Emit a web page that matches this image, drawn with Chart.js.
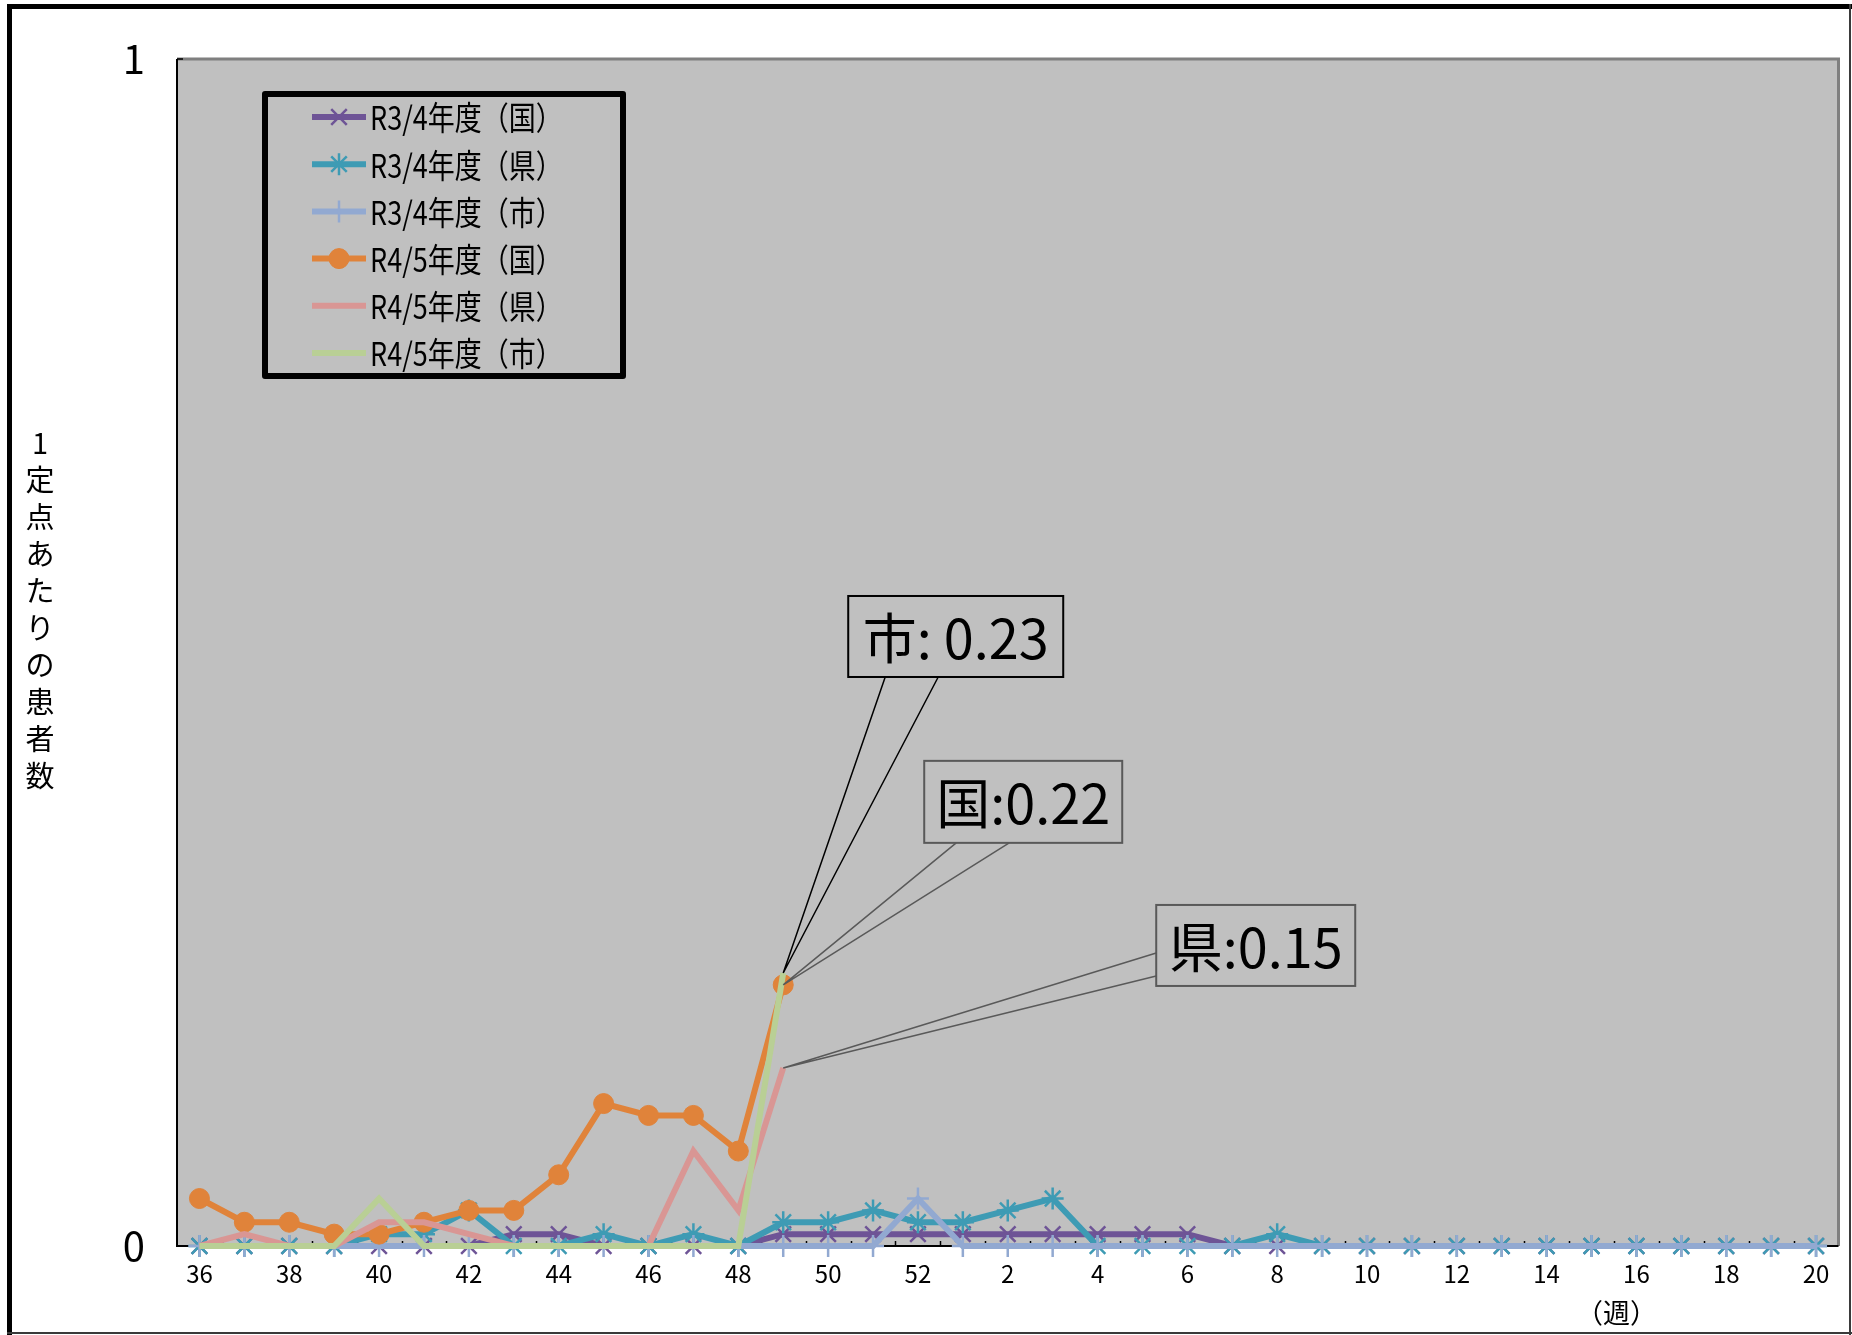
<!DOCTYPE html>
<html lang="ja">
<head>
<meta charset="utf-8">
<title>定点あたりの患者数</title>
<script src="https://cdn.jsdelivr.net/npm/chart.js@4.4.1/dist/chart.umd.min.js"></script>
<style>
  html, body { margin: 0; padding: 0; background: #fff; }
  canvas { display: block; }
</style>
</head>
<body>
<canvas id="chart" width="1852" height="1335"></canvas>
<script>
// 週（36週〜翌年20週）
const weeks = ["36", "37", "38", "39", "40", "41", "42", "43", "44", "45", "46", "47", "48", "49", "50", "51", "52",
    "1", "2", "3", "4", "5", "6", "7", "8", "9", "10", "11", "12", "13", "14", "15", "16", "17", "18", "19", "20"];

const seriesNames = ["R3/4年度（国）", "R3/4年度（県）", "R3/4年度（市）", "R4/5年度（国）", "R4/5年度（県）", "R4/5年度（市）"];

// R3/4年度 (全37週)
const r3National = [0, 0, 0, 0, 0, 0, 0, 0.01, 0.01, 0, 0, 0, 0, 0.01, 0.01, 0.01, 0.01,
    0.01, 0.01, 0.01, 0.01, 0.01, 0.01, 0, 0, 0, 0, 0, 0, 0, 0, 0, 0, 0, 0, 0, 0];
const r3Pref = [0, 0, 0, 0, 0.01, 0.01, 0.03, 0, 0, 0.01, 0, 0.01, 0, 0.02, 0.02, 0.03, 0.02,
    0.02, 0.03, 0.04, 0, 0, 0, 0, 0.01, 0, 0, 0, 0, 0, 0, 0, 0, 0, 0, 0, 0];
const r3City = [0, 0, 0, 0, 0, 0, 0, 0, 0, 0, 0, 0, 0, 0, 0, 0, 0.04,
    0, 0, 0, 0, 0, 0, 0, 0, 0, 0, 0, 0, 0, 0, 0, 0, 0, 0, 0, 0];

// R4/5年度 (36〜49週)
const r4National = [0.04, 0.02, 0.02, 0.01, 0.01, 0.02, 0.03, 0.03, 0.06, 0.12, 0.11, 0.11, 0.08, 0.22];
const r4Pref = [0, 0.01, 0, 0, 0.02, 0.02, 0.01, 0, 0, 0, 0, 0.08, 0.03, 0.15];
const r4City = [0, 0, 0, 0, 0.04, 0, 0, 0, 0, 0, 0, 0, 0, 0.23];

const yTicks = [0, 1];
const yTitle = "1定点あたりの患者数";
const xTitle = "（週）";

const FONT = "'Noto Sans CJK JP', 'Noto Sans', sans-serif";
const colors = ["#6E5496", "#3E9BB4", "#92A9D1", "#E0833A", "#D99694", "#B9CF95"];
const markers = ["crossRot", "star", "cross", "circle", null, null];
const values = [r3National, r3Pref, r3City, r4National, r4Pref, r4City];

// 吹き出し (series index, prefix, box offset from tip, leader bases)
const callouts = [
    { series: 5, prefix: "市: ", dx: 65, dy: -377, w: 215, h: 81, color: "#000", side: "bottom", b1: 37, b2: 90 },
    { series: 3, prefix: "国:", dx: 141, dy: -224, w: 198, h: 82, color: "#595959", side: "bottom", b1: 32, b2: 85 },
    { series: 4, prefix: "県:", dx: 373, dy: -163, w: 199, h: 81, color: "#595959", side: "left", b1: 48, b2: 71 },
];

function drawMarker(ctx, style, x, y, r, color) {
    ctx.save();
    ctx.strokeStyle = color;
    ctx.fillStyle = color;
    ctx.lineWidth = style === "circle" ? 1 : 2.5;
    if (window.Chart && Chart.helpers && Chart.helpers.drawPoint) {
        Chart.helpers.drawPoint(ctx, { pointStyle: style, radius: r, borderWidth: ctx.lineWidth, rotation: 0 }, x, y);
    }
    ctx.restore();
}

// 背景・枠・目盛り
const plotFrame = {
    id: "plotFrame",
    beforeDraw(chart) {
        const { ctx, chartArea: a, width, height } = chart;
        ctx.save();
        ctx.fillStyle = "#fff";
        ctx.fillRect(0, 0, width, height);
        ctx.fillStyle = "#c0c0c0";
        ctx.fillRect(a.left, a.top, a.right - a.left, a.bottom - a.top);
        ctx.fillStyle = "#000";
        ctx.fillRect(7, 4, 5, height - 4);
        ctx.fillRect(7, 4, width - 7, 5);
        ctx.fillStyle = "#3a3a3a";
        ctx.fillRect(width - 3, 4, 2, height - 4);
        ctx.fillRect(7, height - 3, width - 7, 2);
        ctx.restore();
    },
    beforeDatasetsDraw(chart) {
        const { ctx, chartArea: a, scales: { x } } = chart;
        ctx.save();
        ctx.strokeStyle = "#7f7f7f";
        ctx.lineWidth = 3;
        ctx.beginPath();
        ctx.moveTo(a.left, a.top);
        ctx.lineTo(a.right, a.top);
        ctx.lineTo(a.right, a.bottom);
        ctx.stroke();

        ctx.strokeStyle = "#000";
        ctx.lineWidth = 2;
        ctx.beginPath();
        ctx.moveTo(a.left, a.top);
        ctx.lineTo(a.left, a.bottom);
        ctx.lineTo(a.right, a.bottom);
        ctx.stroke();

        ctx.lineWidth = 1.5;
        ctx.beginPath();
        for (let i = 1; i < weeks.length; i++) {
            const bx = Math.round((x.getPixelForValue(i - 1) + x.getPixelForValue(i)) / 2) + 0.5;
            ctx.moveTo(bx, a.bottom);
            ctx.lineTo(bx, a.bottom - 5);
        }
        ctx.moveTo(a.left, a.top);
        ctx.lineTo(a.left + 6, a.top);
        ctx.stroke();
        ctx.restore();
    }
};

// 凡例
const legendBox = {
    id: "legendBox",
    afterDatasetsDraw(chart) {
        const { ctx, chartArea: a } = chart;
        const left = a.left + 85, top = a.top + 32, w = 364, h = 288;
        ctx.save();
        ctx.lineWidth = 6;
        ctx.strokeStyle = "#000";
        ctx.lineJoin = "round";
        ctx.strokeRect(left + 3, top + 3, w - 6, h - 6);
        chart.data.datasets.forEach((ds, i) => {
            const y = top + 26 + i * 47.2;
            ctx.strokeStyle = ds.borderColor;
            ctx.lineWidth = 6;
            ctx.lineCap = "butt";
            ctx.beginPath();
            ctx.moveTo(left + 50, y);
            ctx.lineTo(left + 104, y);
            ctx.stroke();
            if (markers[i]) drawMarker(ctx, markers[i], left + 77, y, markers[i] === "circle" ? 10 : 11, ds.borderColor);
            // 縦長の書体に寄せて少し縦に伸ばす
            ctx.save();
            ctx.translate(left + 108, y + 1);
            ctx.scale(1, 1.2);
            ctx.fillStyle = "#000";
            ctx.font = "27px " + FONT;
            ctx.textBaseline = "middle";
            ctx.textAlign = "left";
            ctx.fillText(ds.label, 0, 0);
            ctx.restore();
        });
        ctx.restore();
    }
};

// 49週の値の吹き出し
const calloutLabels = {
    id: "calloutLabels",
    afterDatasetsDraw(chart) {
        const { ctx, scales: { x, y } } = chart;
        const idx = weeks.indexOf("49");
        ctx.save();
        callouts.forEach((c) => {
            const v = values[c.series][idx];
            const tx = x.getPixelForValue(idx);
            const ty = y.getPixelForValue(v);
            const bx = tx + c.dx, by = ty + c.dy;
            ctx.strokeStyle = c.color;
            ctx.lineWidth = 1.5;
            ctx.beginPath();
            if (c.side === "bottom") {
                ctx.moveTo(bx + c.b1, by + c.h);
                ctx.lineTo(tx, ty);
                ctx.lineTo(bx + c.b2, by + c.h);
            } else {
                ctx.moveTo(bx, by + c.b1);
                ctx.lineTo(tx, ty);
                ctx.lineTo(bx, by + c.b2);
            }
            ctx.stroke();
            ctx.fillStyle = "#c0c0c0";
            ctx.fillRect(bx, by, c.w, c.h);
            ctx.lineWidth = 2;
            ctx.strokeRect(bx, by, c.w, c.h);
            ctx.fillStyle = "#000";
            ctx.font = "54px " + FONT;
            ctx.textAlign = "center";
            ctx.textBaseline = "middle";
            ctx.fillText(c.prefix + v.toFixed(2), bx + c.w / 2, by + c.h / 2 + 2);
        });
        ctx.restore();
    }
};

// 軸タイトル
const axisTitles = {
    id: "axisTitles",
    afterDraw(chart) {
        const { ctx, chartArea: a } = chart;
        ctx.save();
        ctx.fillStyle = "#000";
        ctx.font = "29px " + FONT;
        ctx.textAlign = "center";
        ctx.textBaseline = "middle";
        Array.from(yTitle).forEach((ch, i) => {
            ctx.fillText(ch, 40, 443 + i * 37);
        });
        ctx.font = "27px " + FONT;
        ctx.fillText(xTitle, a.right - 222, a.bottom + 67);
        ctx.restore();
    }
};

const datasets = values.map((data, i) => ({
    label: seriesNames[i],
    data: data,
    borderColor: colors[i],
    backgroundColor: colors[i],
    borderWidth: 6,
    pointStyle: markers[i] || "circle",
    pointRadius: markers[i] ? (markers[i] === "circle" ? 10 : 11) : 0,
    pointBorderWidth: markers[i] === "circle" ? 1 : 2.5,
    pointBackgroundColor: colors[i],
    pointBorderColor: colors[i],
    borderJoinStyle: "miter",
    tension: 0,
    clip: false,
    order: values.length - i,
}));

new Chart(document.getElementById("chart"), {
    type: "line",
    data: { labels: weeks, datasets: datasets },
    options: {
        responsive: false,
        animation: false,
        devicePixelRatio: 1,
        layout: { padding: { top: 59, right: 12, left: 0, bottom: 0 } },
        plugins: { legend: { display: false }, tooltip: { enabled: false } },
        scales: {
            x: {
                type: "category",
                offset: true,
                grid: { display: false, drawTicks: false },
                border: { display: false },
                ticks: {
                    autoSkip: false,
                    maxRotation: 0,
                    padding: 13,
                    color: "#000",
                    font: { family: FONT, size: 24 },
                    callback(v, i) { return i % 2 === 0 ? this.getLabelForValue(v) : ""; },
                },
                afterFit(s) { s.height = 89; },
            },
            y: {
                min: 0,
                max: 1,
                grid: { display: false, drawTicks: false },
                border: { display: false },
                afterBuildTicks(s) { s.ticks = yTicks.map((v) => ({ value: v })); },
                ticks: { padding: 32, color: "#000", font: { family: FONT, size: 40 } },
                afterFit(s) { s.width = 177; },
            },
        },
    },
    plugins: [plotFrame, legendBox, calloutLabels, axisTitles],
});
</script>
</body>
</html>
